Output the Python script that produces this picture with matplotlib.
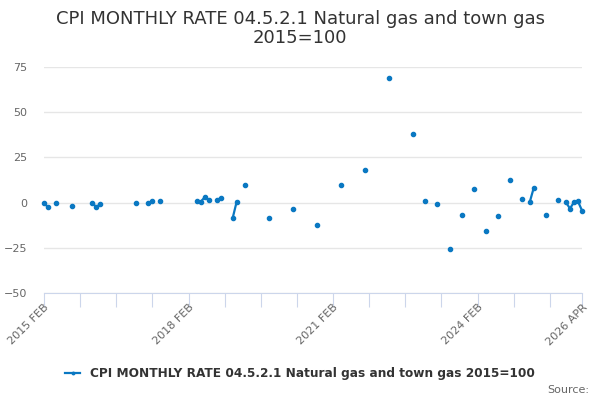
import numpy as np
import pandas as pd
import matplotlib
matplotlib.use("Agg")
import matplotlib.pyplot as plt

# observed months and monthly rates (gaps = no data)
obs_months = ["2015-02", "2015-03", "2015-05", "2015-09", "2016-02", "2016-03", "2016-04",
              "2017-01", "2017-04", "2017-05", "2017-07", "2018-04", "2018-05", "2018-06",
              "2018-07", "2018-09", "2018-10", "2019-01", "2019-02", "2019-04", "2019-10",
              "2020-04", "2020-10", "2021-04", "2021-10", "2022-04", "2022-10", "2023-01",
              "2023-04", "2023-07", "2023-10", "2024-01", "2024-04", "2024-07", "2024-10",
              "2025-01", "2025-03", "2025-04", "2025-07", "2025-10", "2025-12", "2026-01",
              "2026-02", "2026-03", "2026-04"]
obs_values = [-0.4, -2.4, -0.2, -1.8, -0.2, -2.4, -0.9,
              -0.2, -0.2, 0.9, 0.9, 0.7, 0.4, 2.9,
              1.5, 1.5, 2.4, -8.5, 0.6, 9.8, -8.7,
              -3.3, -12.2, 9.8, 17.9, 69.1, 37.8, 0.7,
              -0.6, -25.4, -7.0, 7.4, -15.7, -7.6, 12.3,
              1.8, 0.4, 8.3, -7.0, 1.3, 0.2, -3.3,
              0.2, 0.7, -4.4]

series_name = "CPI MONTHLY RATE 04.5.2.1 Natural gas and town gas 2015=100"
title = "CPI MONTHLY RATE 04.5.2.1 Natural gas and town gas\n2015=100"
y_ticks = [-50, -25, 0, 25, 50, 75]

# full monthly index, NaN where missing so only consecutive months get joined
months = pd.period_range("2015-02", "2026-04", freq="M")
s = pd.Series(np.nan, index=months)
s[pd.PeriodIndex(obs_months, freq="M")] = obs_values
x = np.arange(len(months))

color = "#0a78c2"
fig = plt.figure(figsize=(6, 4), dpi=100)
ax = fig.add_axes([44/600, 1-293/400, (582-44)/600, (293-67)/400])

line, = ax.plot(x, s.values, "-o", color=color, lw=1.6, ms=3, clip_on=False)

ax.set_xlim(0, len(months) - 1)
ax.set_ylim(-50, 75)
ax.set_yticks(y_ticks)
ax.grid(axis="y", color="#e6e6e6", lw=1)
ax.set_axisbelow(True)
for sp in ["top", "right", "left"]:
    ax.spines[sp].set_visible(False)
ax.spines["bottom"].set_color("#ccd6eb")
ax.tick_params(axis="y", length=0, labelsize=8, labelcolor="#666666", pad=12)

# minor ticks every 9 months, labels every 36 months plus the last month
tick_pos = list(range(0, len(months), 9)) + [len(months) - 1]
ax.set_xticks(tick_pos)
ax.set_xticklabels([""] * len(tick_pos))
lab_pos = [0, 36, 72, 108, len(months) - 1]
labels = [months[i].strftime("%Y %b").upper() for i in lab_pos]
for p, lab in zip(lab_pos, labels):
    ax.text(p, -0.04, lab, transform=ax.get_xaxis_transform(), rotation=45,
            ha="right", va="top", fontsize=8, color="#666666", rotation_mode="anchor")
ax.tick_params(axis="x", length=10, color="#ccd6eb", direction="out")

fig.suptitle(title, y=0.975, fontsize=13, color="#333333", linespacing=1.1)

leg = fig.legend([line], [series_name], loc="center", bbox_to_anchor=(0.5, 1-374/400),
                 frameon=False, fontsize=8.7, handlelength=1.2, markerscale=0.6)
for t in leg.get_texts():
    t.set_fontweight("bold")
    t.set_color("#333333")

fig.text(589/600, 1-390/400, "Source:", ha="right", va="center", fontsize=8, color="#666666")

fig.savefig("out.png", dpi=100)
